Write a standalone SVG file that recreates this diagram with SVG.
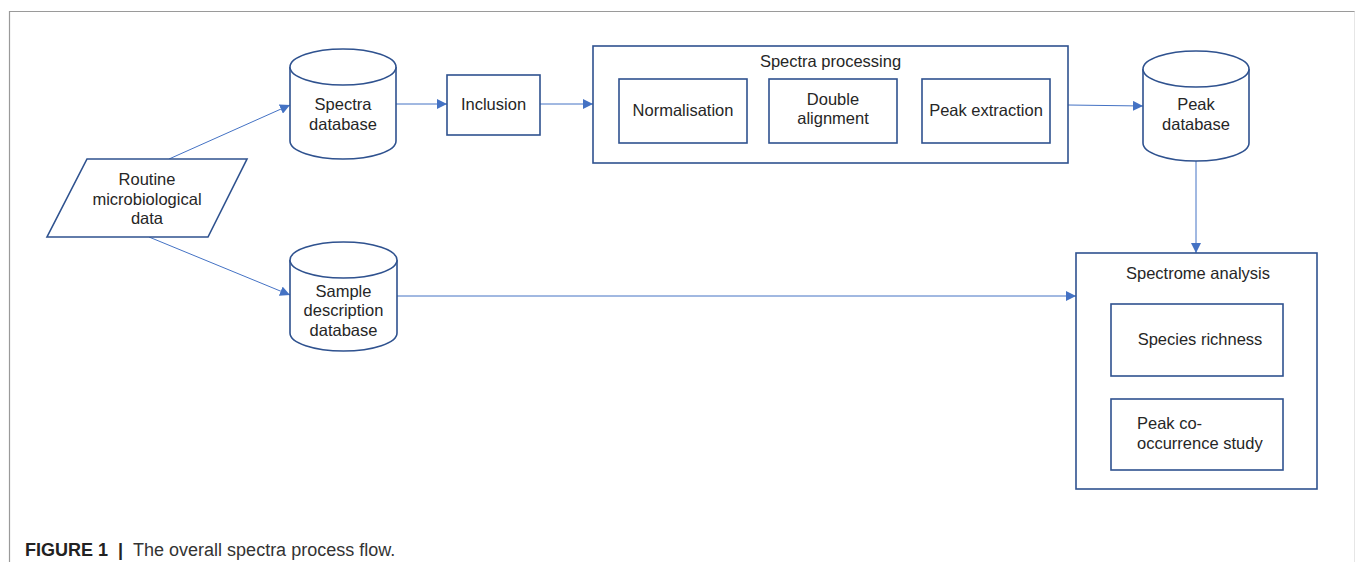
<svg xmlns="http://www.w3.org/2000/svg" width="1355" height="562" viewBox="0 0 1355 562">
<style>
.shape{fill:#fff;stroke:#2f528f;stroke-width:1.6}
.conn{fill:none;stroke:#4472c4;stroke-width:1}
.t{font-family:"Liberation Sans",Arial,sans-serif;font-size:16.5px;fill:#262626;text-anchor:middle;dominant-baseline:central}
.tl{text-anchor:start}
.cap{font-family:"Liberation Sans",Arial,sans-serif;font-size:18px;fill:#333}
</style>
<defs>
<marker id="arr" viewBox="0 0 10 10" refX="10" refY="5" markerWidth="10" markerHeight="10" markerUnits="userSpaceOnUse" orient="auto">
<path d="M0,0 L10,5 L0,10 z" fill="#4472c4"/>
</marker>
</defs>
<rect width="1355" height="562" fill="#fff"/>
<g id="frame">
<path d="M9.5,562 V11.5 H1355" fill="none" stroke="#9a9a9a" stroke-width="1.2"/>
<path d="M1354.5,11.5 V562" fill="none" stroke="#e6e6e6" stroke-width="1"/>
</g>
<g id="connectors">
<path class="conn" d="M169,159 L290,105" marker-end="url(#arr)"/>
<path class="conn" d="M149,237 L290,295" marker-end="url(#arr)"/>
<path class="conn" d="M396,104 H447" marker-end="url(#arr)"/>
<path class="conn" d="M540,104 H593" marker-end="url(#arr)"/>
<path class="conn" d="M1068,105 L1143,106" marker-end="url(#arr)"/>
<path class="conn" d="M1196,161 V253" marker-end="url(#arr)"/>
<path class="conn" d="M397,296 H1076" marker-end="url(#arr)"/>
</g>
<g id="routine">
<polygon class="shape" points="87,159 247,159 208,237 47,237"/>
<text class="t" x="147" y="179">Routine</text>
<text class="t" x="147" y="199">microbiological</text>
<text class="t" x="147" y="218">data</text>
</g>
<g id="spectra-db">
<path class="shape" d="M290,67 A53,18 0 0 1 396,67 V141 A53,18 0 0 1 290,141 Z"/>
<path class="shape" d="M290,67 A53,18 0 0 0 396,67" fill="none"/>
<text class="t" x="343" y="104">Spectra</text>
<text class="t" x="343" y="124">database</text>
</g>
<g id="sample-db">
<path class="shape" d="M290,260 A53.5,18 0 0 1 397,260 V333 A53.5,18 0 0 1 290,333 Z"/>
<path class="shape" d="M290,260 A53.5,18 0 0 0 397,260" fill="none"/>
<text class="t" x="343.5" y="291">Sample</text>
<text class="t" x="343.5" y="310">description</text>
<text class="t" x="343.5" y="330">database</text>
</g>
<g id="inclusion">
<rect class="shape" x="447" y="75" width="93" height="60"/>
<text class="t" x="493.5" y="104">Inclusion</text>
</g>
<g id="spectra-processing">
<rect class="shape" x="593" y="46" width="475" height="117"/>
<text class="t" x="830.5" y="61">Spectra processing</text>
<g id="normalisation">
<rect class="shape" x="619" y="79" width="128" height="64"/>
<text class="t" x="683" y="110">Normalisation</text>
</g>
<g id="double-alignment">
<rect class="shape" x="769" y="79" width="128" height="64"/>
<text class="t" x="833" y="99">Double</text>
<text class="t" x="833" y="118">alignment</text>
</g>
<g id="peak-extraction">
<rect class="shape" x="922" y="79" width="128" height="64"/>
<text class="t" x="986" y="110">Peak extraction</text>
</g>
</g>
<g id="peak-db">
<path class="shape" d="M1143,69 A53,18 0 0 1 1249,69 V143 A53,18 0 0 1 1143,143 Z"/>
<path class="shape" d="M1143,69 A53,18 0 0 0 1249,69" fill="none"/>
<text class="t" x="1196" y="104">Peak</text>
<text class="t" x="1196" y="124">database</text>
</g>
<g id="spectrome-analysis">
<rect class="shape" x="1076" y="253" width="241" height="236"/>
<text class="t" x="1198" y="273">Spectrome analysis</text>
<g id="species-richness">
<rect class="shape" x="1111" y="304" width="172" height="72"/>
<text class="t" x="1200" y="339">Species richness</text>
</g>
<g id="peak-cooccurrence">
<rect class="shape" x="1111" y="399" width="172" height="71"/>
<text class="t tl" x="1137" y="423">Peak co-</text>
<text class="t tl" x="1137" y="443">occurrence study</text>
</g>
</g>
<g id="caption">
<text class="cap" x="25" y="556"><tspan font-weight="bold" fill="#222">FIGURE 1</tspan><tspan dx="10" font-weight="bold" fill="#222">|</tspan><tspan dx="10">The overall spectra process flow.</tspan></text>
</g>
</svg>
